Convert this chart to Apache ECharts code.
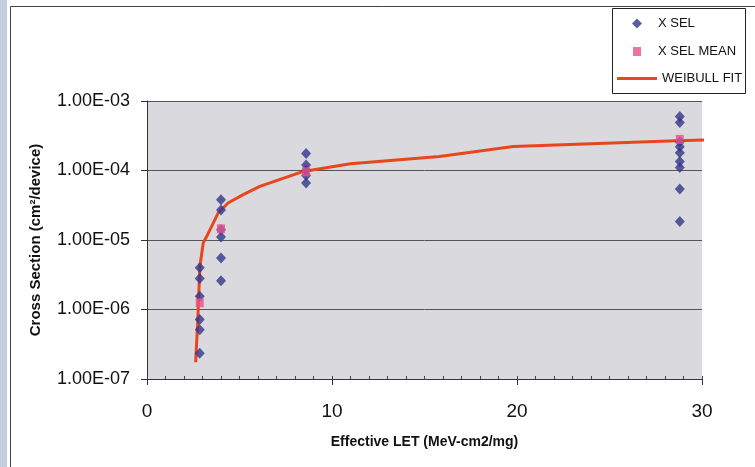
<!DOCTYPE html>
<html>
<head>
<meta charset="utf-8">
<script src="https://cdn.jsdelivr.net/npm/echarts@6/dist/echarts.min.js"></script>
<style>
  html, body { margin: 0; padding: 0; background: #fff; }
  #chart { width: 755px; height: 467px; }
</style>
</head>
<body>
<div id="chart"></div>
<script>
// X SEL measurements
const selLet = [2.85, 2.85, 2.85, 2.85, 2.85, 2.85,
  4, 4, 4, 4, 4, 4,
  8.6, 8.6, 8.6, 8.6, 8.6,
  28.8, 28.8, 28.8, 28.8, 28.8, 28.8, 28.8, 28.8, 28.8]
const selCross = [4.0e-6, 2.8e-6, 1.55e-6, 7.2e-7, 5.1e-7, 2.35e-7,
  3.8e-5, 2.7e-5, 1.4e-5, 1.1e-5, 5.5e-6, 2.6e-6,
  1.75e-4, 1.2e-4, 1.0e-4, 8.5e-5, 6.6e-5,
  6.0e-4, 4.9e-4, 2.6e-4, 2.2e-4, 1.8e-4, 1.35e-4, 1.1e-4, 5.4e-5, 1.85e-5]

// X SEL MEAN
const meanLet = [2.85, 4, 8.6, 28.8]
const meanCross = [1.25e-6, 1.45e-5, 9.6e-5, 2.8e-4]

// WEIBULL FIT
const fitLet = [2.63, 2.74, 2.81, 2.86, 3.04, 3.23, 3.85, 4.38, 5.2, 6.1, 8.45, 11, 15.8, 19.8, 28.6, 30.3]
const fitCross = [1.74e-7, 6.5e-7, 1.95e-6, 4.2e-6, 9.1e-6, 1.13e-5, 2.45e-5, 3.41e-5, 4.49e-5, 5.9e-5, 9.7e-5, 1.25e-4, 1.59e-4, 2.21e-4, 2.67e-4, 2.76e-4]

const xTicks = [0, 10, 20, 30]
const yTicks = [1e-7, 1e-6, 1e-5, 1e-4, 1e-3]

const zip = (a, b) => a.map((v, i) => [v, b[i]])
const font = 'Liberation Sans, Arial, sans-serif'

const chart = echarts.init(document.getElementById('chart'))

const legendText = { fontFamily: font, fontSize: 13, color: '#111' }
const legendBase = {
  orient: 'vertical',
  padding: 0,
  itemGap: 0,
  selectedMode: false,
}

chart.setOption({
  animation: false,
  backgroundColor: '#fff',
  graphic: [
    { type: 'rect', left: 0, top: 0, shape: { width: 7, height: 467 }, style: { fill: '#c5cfdc' }, z: 0 },
    { type: 'rect', left: 8, top: 4, shape: { width: 760, height: 480 }, style: { fill: 'none', stroke: '#444', lineWidth: 1 }, z: 0 },
    { type: 'rect', left: 612, top: 8, shape: { width: 133, height: 85 }, style: { fill: '#fff', stroke: '#222', lineWidth: 1 }, z: 1 },
  ],
  legend: [
    Object.assign({}, legendBase, {
      data: [{ name: 'X SEL', icon: 'diamond' }],
      left: 632, top: 17, itemWidth: 10, itemHeight: 10,
      textStyle: Object.assign({}, legendText, { padding: [0, 0, 0, 11] }),
    }),
    Object.assign({}, legendBase, {
      data: [{ name: 'X SEL MEAN', icon: 'rect' }],
      left: 633, top: 45, itemWidth: 8, itemHeight: 9,
      textStyle: Object.assign({}, legendText, { padding: [0, 0, 0, 12] }),
    }),
    Object.assign({}, legendBase, {
      data: [{ name: 'WEIBULL FIT', icon: 'rect' }],
      left: 617, top: 72, itemWidth: 40, itemHeight: 3,
      textStyle: legendText,
    }),
  ],
  grid: {
    left: 147, right: 53, top: 101, bottom: 88,
    show: true, backgroundColor: '#d9d9de', borderWidth: 0,
  },
  xAxis: [
    {
      type: 'value', min: xTicks[0], max: xTicks[xTicks.length - 1], interval: 10,
      name: 'Effective LET (MeV-cm2/mg)', nameLocation: 'middle', nameGap: 56,
      nameTextStyle: { fontFamily: font, fontSize: 14, fontWeight: 'bold', color: '#111' },
      axisLine: { show: true, lineStyle: { color: '#333', width: 1 } },
      axisTick: { show: true, length: 6, lineStyle: { color: '#333' } },
      axisLabel: { fontFamily: font, fontSize: 19, color: '#111', margin: 23 },
      splitLine: { show: false },
    },
    {
      type: 'value', min: 0, max: 30, interval: 1, position: 'bottom',
      axisLine: { show: false },
      axisTick: { show: true, inside: true, length: 3, lineStyle: { color: '#444' } },
      axisLabel: { show: false },
      splitLine: { show: false },
    },
  ],
  yAxis: {
    type: 'log', logBase: 10, min: yTicks[0], max: yTicks[yTicks.length - 1],
    name: 'Cross Section (cm²/device)', nameLocation: 'middle', nameGap: 104, nameRotate: 90,
    nameTextStyle: { fontFamily: font, fontSize: 15, fontWeight: 'bold', color: '#111' },
    axisLine: { show: true, lineStyle: { color: '#333', width: 1 } },
    axisTick: { show: true, length: 6, lineStyle: { color: '#333' } },
    axisLabel: {
      fontFamily: font, fontSize: 18, color: '#111', margin: 17,
      formatter: v => {
        const e = Math.round(Math.log10(v))
        return '1.00E' + (e < 0 ? '-' : '+') + String(Math.abs(e)).padStart(2, '0')
      },
    },
    splitLine: { show: true, lineStyle: { color: '#555', width: 1 } },
  },
  series: [
    {
      name: 'WEIBULL FIT', type: 'line', data: zip(fitLet, fitCross),
      symbol: 'none', clip: false, z: 2,
      lineStyle: { color: '#e8461c', width: 3 },
      itemStyle: { color: '#e8461c' },
    },
    {
      name: 'X SEL', type: 'scatter', data: zip(selLet, selCross),
      symbol: 'diamond', symbolSize: [10, 11], z: 3,
      itemStyle: { color: '#34348a' },
    },
    {
      name: 'X SEL MEAN', type: 'scatter', data: zip(meanLet, meanCross),
      symbol: 'rect', symbolSize: [8, 9], z: 4,
      itemStyle: { color: '#e8508c' },
    },
  ],
})
</script>
</body>
</html>
